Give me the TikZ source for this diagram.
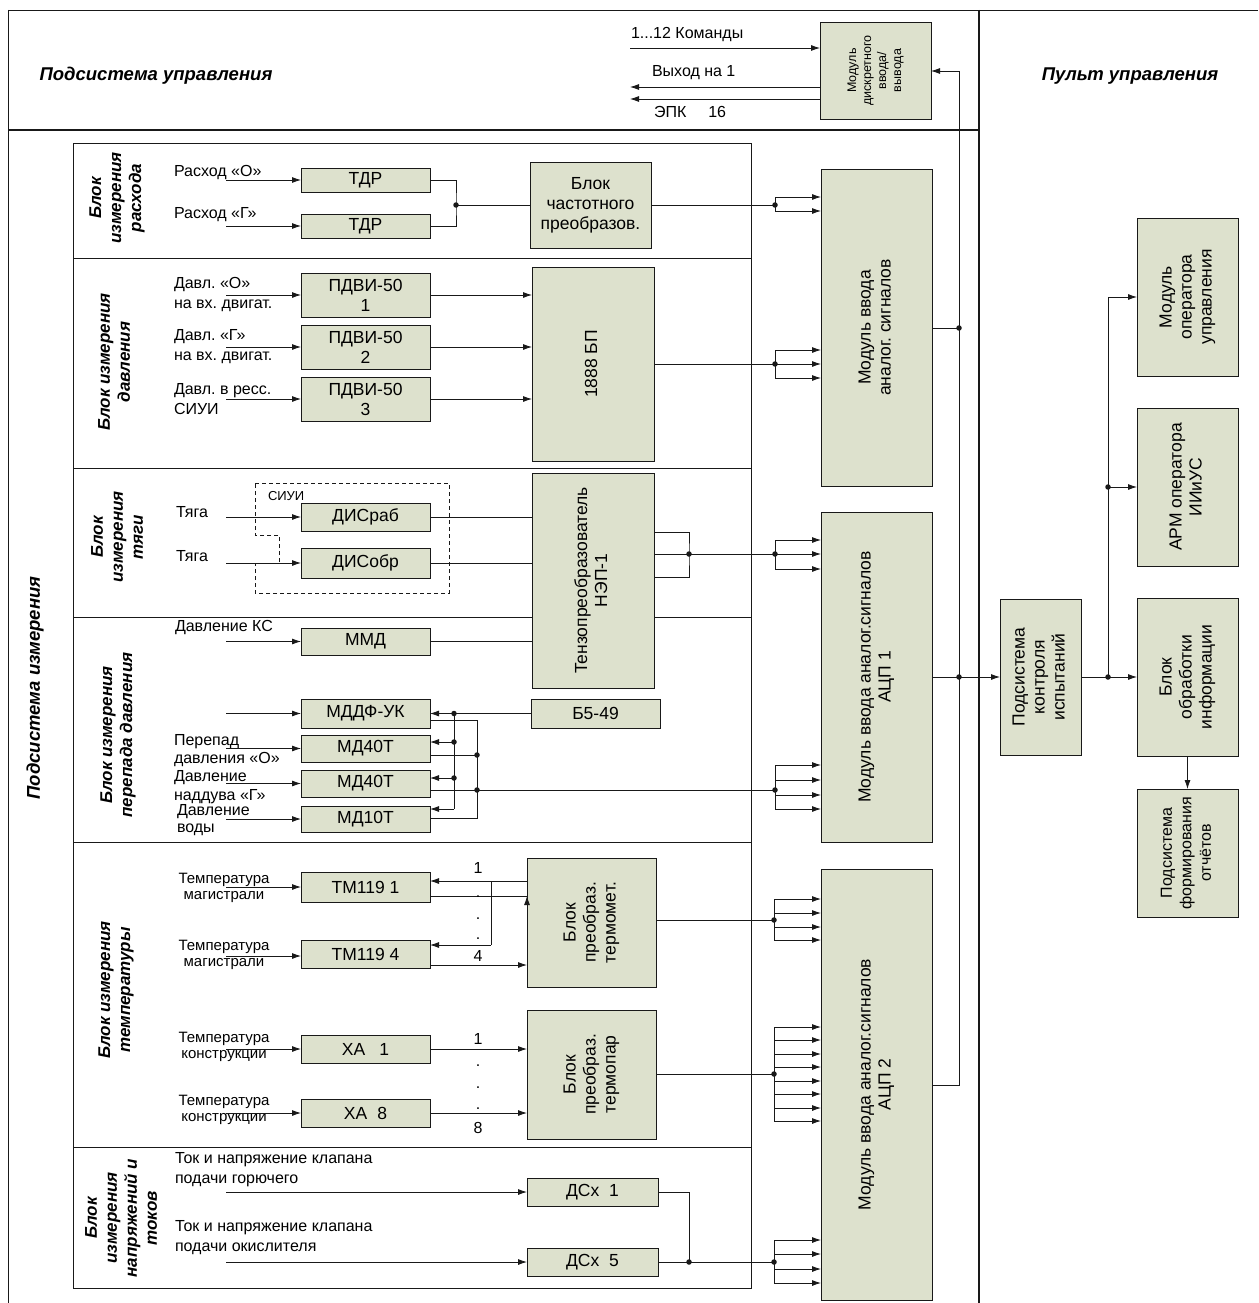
\documentclass[tikz,border=0pt]{standalone}
\usepackage{fontspec}
\setmainfont{Liberation Sans}
\usepackage{graphicx}
\usetikzlibrary{arrows.meta}
\definecolor{boxfill}{RGB}{221,225,205}
\definecolor{ln}{RGB}{25,25,25}
\newcommand{\fsz}[2]{\fontsize{#1}{#2}\selectfont}
\newcommand{\rtxt}[1]{\rotatebox{90}{\begin{tabular}{@{}c@{}}#1\end{tabular}}}
\frenchspacing
\begin{document}
\frenchspacing
\begin{tikzpicture}[x=1pt,y=-1pt,line width=0.8pt,
  every node/.style={inner sep=0pt,outer sep=0pt},
  blk/.style={draw=ln,fill=boxfill,line width=0.8pt,align=center,font=\fsz{17.5}{20}},
  lbl/.style={font=\fsz{16}{19},align=left},
  sec/.style={rotate=90,align=center,font=\fsz{17}{20}\bfseries\itshape},
  ttl/.style={font=\fsz{18.5}{22}\bfseries\itshape},
  arr/.style={-{Latex[length=9pt,width=6pt]}},
  dot/.style={circle,fill=ln,minimum size=5.5pt}
]
\useasboundingbox (0,0) rectangle (1258,1303);
\fill[white] (0,0) rectangle (1258,1303);

% frames
\draw[ln] (8,10) -- (1258,10);
\draw[ln] (8,10) -- (8,1303);
\draw[ln,line width=1.6pt] (979,10) -- (979,1303);
\draw[ln,line width=1.6pt] (8,130) -- (979,130);
\draw[ln] (73,143) rectangle (751,1288);
\foreach \yy in {258,468,617,842,1147} \draw[ln] (73,\yy) -- (751,\yy);

% titles
\node[ttl] (t1) at (156,76) {Подсистема управления};
\node[ttl] (t2) at (1130,76) {Пульт управления};
\node[ttl,rotate=90] (t3) at (35,688) {Подсистема измерения};

% control subsystem
\node[blk,minimum width=111,minimum height=97] (mdio) at (875.5,70.5) {\fsz{12.5}{15}\rtxt{Модуль\\дискретного\\ввода/\\вывода}};
\node[lbl,anchor=west] (c1) at (631,35) {1...12 Команды};
\coordinate (cin) at (630,48);
\draw[arr,ln] (cin) -- (mdio.west |- cin);
\node[lbl,anchor=west] (c2) at (652,73) {Выход на 1};
\coordinate (o1) at (630,87);
\coordinate (o2) at (630,99);
\draw[arr,ln] (mdio.west |- o1) -- (o1);
\draw[arr,ln] (mdio.west |- o2) -- (o2);
\node[lbl,anchor=west] (c3) at (654,112) {ЭПК\hspace{22pt}16};
\coordinate (btop) at (959,71);
\draw[arr,ln] (btop) -- (mdio.east |- btop);

% ---------- flow
\node[sec] (s1) at (117,198) {Блок\\измерения\\расхода};
\node[lbl,anchor=west] (l11) at (174,173) {Расход «О»};
\node[lbl,anchor=west] (l12) at (174,215) {Расход «Г»};
\node[blk,minimum width=129,minimum height=24] (tdr1) at (365.5,180) {ТДР};
\node[blk,minimum width=129,minimum height=24] (tdr2) at (365.5,226) {ТДР};
\coordinate (i11) at (226,180);
\coordinate (i12) at (226,226);
\draw[arr,ln] (i11) -- (tdr1.west);
\draw[arr,ln] (i12) -- (tdr2.west);
\node[blk,minimum width=121,minimum height=86] (bchp) at (590.5,205) {Блок\\частотного\\преобразов.};
\node[dot] (d11) at (456,205) {};
\draw[ln] (tdr1.east) -| (d11.center) |- (tdr2.east);
\draw[ln] (d11.center) -- (bchp.west);
\node[dot] (d12) at (775,205) {};
\draw[ln] (bchp.east) -- (d12.center);

\node[blk,minimum width=111,minimum height=317] (mod1) at (876.5,327.5) {\rtxt{Модуль ввода\\аналог. сигналов}};
\foreach \yy in {197,211} \draw[arr,ln] (d12.center) |- (mod1.west |- 0,\yy);
\node[dot] (b1) at (959,328) {};
\draw[ln] (mod1.east |- b1) -- (b1.center);

% ---------- pressure
\node[sec] (s2) at (114,362) {Блок измерения\\давления};
\node[lbl,anchor=west,font=\fsz{16}{20}] (l21) at (174,295) {Давл. «О»\\на вх. двигат.};
\node[lbl,anchor=west,font=\fsz{16}{20}] (l22) at (174,347) {Давл. «Г»\\на вх. двигат.};
\node[lbl,anchor=west,font=\fsz{16}{20}] (l23) at (174,399) {Давл. в ресс.\\СИУИ};
\node[blk,minimum width=129,minimum height=44] (p1) at (365.5,295) {ПДВИ-50\\1};
\node[blk,minimum width=129,minimum height=44] (p2) at (365.5,347) {ПДВИ-50\\2};
\node[blk,minimum width=129,minimum height=44] (p3) at (365.5,399) {ПДВИ-50\\3};
\coordinate (i21) at (226,295);
\coordinate (i22) at (226,347);
\coordinate (i23) at (226,399);
\draw[arr,ln] (i21) -- (p1.west);
\draw[arr,ln] (i22) -- (p2.west);
\draw[arr,ln] (i23) -- (p3.west);
\node[blk,minimum width=122,minimum height=194] (bp) at (593,364) {\rtxt{1888 БП}};
\draw[arr,ln] (p1.east) -- (bp.west |- p1.east);
\draw[arr,ln] (p2.east) -- (bp.west |- p2.east);
\draw[arr,ln] (p3.east) -- (bp.west |- p3.east);
\node[dot] (d21) at (775,364) {};
\draw[ln] (bp.east |- d21) -- (d21.center);
\foreach \yy in {350,364,378} \draw[arr,ln] (d21.center) |- (mod1.west |- 0,\yy);

% ---------- thrust
\node[sec] (s3) at (117,537) {Блок\\измерения\\тяги};
\draw[ln,dash pattern=on 4pt off 3pt] (255,483) -- (449,483) -- (449,593) -- (255,593) -- (255,563) -- (279,563) -- (279,535) -- (255,535) -- cycle;
\node[lbl,anchor=west,font=\fsz{13}{15}] (siui) at (268,496) {СИУИ};
\node[lbl,anchor=west] (l31) at (176,512) {Тяга};
\node[lbl,anchor=west] (l32) at (176,556) {Тяга};
\node[blk,minimum width=129,minimum height=28] (dr) at (365.5,517) {ДИСраб};
\node[blk,minimum width=129,minimum height=30] (dob) at (365.5,563) {ДИСобр};
\coordinate (i31) at (226,517);
\coordinate (i32) at (226,563);
\draw[arr,ln] (i31) -- (dr.west);
\draw[arr,ln] (i32) -- (dob.west);
\node[blk,minimum width=122,minimum height=215] (tz) at (593,580.5) {\rtxt{Тензопреобразователь\\НЭП-1}};
\draw[ln] (dr.east) -- (tz.west |- dr.east);
\draw[ln] (dob.east) -- (tz.west |- dob.east);
\node[dot] (d31) at (689,554) {};
\draw[ln] (tz.east |- 0,532) -| (d31.center) |- (tz.east |- 0,577);
\draw[ln] (tz.east |- d31) -- (d31.center);
\node[dot] (d32) at (775,554) {};
\draw[ln] (d31.center) -- (d32.center);

\node[blk,minimum width=111,minimum height=330] (acp1) at (876.5,677) {\rtxt{Модуль ввода аналог.сигналов\\АЦП 1}};
\foreach \yy in {540,554,569} \draw[arr,ln] (d32.center) |- (acp1.west |- 0,\yy);

% ---------- differential pressure
\node[sec] (s4) at (118,735) {Блок измерения\\перепада давления};
\node[lbl,anchor=west] (l41) at (175,628) {Давление КС};
\node[blk,minimum width=129,minimum height=27] (mmd) at (365.5,641.5) {ММД};
\coordinate (i41) at (226,641.5);
\draw[arr,ln] (i41) -- (mmd.west);
\draw[ln] (mmd.east) -- (tz.west |- mmd.east);
\node[blk,minimum width=129,minimum height=29] (mddf) at (365.5,713.5) {МДДФ-УК};
\node[blk,minimum width=129,minimum height=29] (b549) at (595.5,713.5) {Б5-49};
\node[blk,minimum width=129,minimum height=27] (m40a) at (365.5,748.5) {МД40Т};
\node[blk,minimum width=129,minimum height=27] (m40b) at (365.5,783.5) {МД40Т};
\node[blk,minimum width=129,minimum height=26] (m10) at (365.5,819) {МД10Т};
\node[lbl,anchor=west,font=\fsz{16}{18}] (l42) at (174,751) {Перепад\\давления «О»};
\node[lbl,anchor=west,font=\fsz{16}{19}] (l43) at (174,787) {Давление\\наддува «Г»};
\node[lbl,anchor=west,font=\fsz{16}{16.5}] (l44) at (177,820) {Давление\\воды};
\coordinate (i42) at (226,713.5);
\coordinate (i43) at (226,748.5);
\coordinate (i44) at (226,783.5);
\coordinate (i45) at (226,819);
\draw[arr,ln] (i42) -- (mddf.west);
\draw[arr,ln] (i43) -- (m40a.west);
\draw[arr,ln] (i44) -- (m40b.west);
\draw[arr,ln] (i45) -- (m10.west);
% feedback from B5-49
\node[dot] (f1) at (454,713.5) {};
\node[dot] (f2) at (454,742) {};
\node[dot] (f3) at (454,778) {};
\coordinate (f4) at (454,809);
\draw[ln] (b549.west) -- (f1.center);
\draw[arr,ln] (f1.center) -- (mddf.east);
\draw[ln] (f1.center) -- (f4);
\draw[arr,ln] (f2.center) -- (m40a.east |- f2);
\draw[arr,ln] (f3.center) -- (m40b.east |- f3);
\draw[arr,ln] (f4) -- (m10.east |- f4);
% collector
\coordinate (g1) at (477,720);
\coordinate (g4) at (477,818);
\node[dot] (g2) at (477,755) {};
\node[dot] (g3) at (477,790) {};
\draw[ln] (mddf.east |- g1) -- (g1) -- (g4) -- (m10.east |- g4);
\draw[ln] (m40a.east |- g2) -- (g2.center);
\draw[ln] (m40b.east |- g3) -- (g3.center);
\node[dot] (d41) at (775,790) {};
\draw[ln] (g3.center) -- (d41.center);
\foreach \yy in {765,780,795,809} \draw[arr,ln] (d41.center) |- (acp1.west |- 0,\yy);

% ---------- temperature
\node[sec] (s5) at (116,990) {Блок измерения\\температуры};
\node[lbl,align=center,font=\fsz{15}{15.5}] (l51) at (224,888) {Температура\\магистрали};
\node[lbl,align=center,font=\fsz{15}{15.5}] (l52) at (224,955) {Температура\\магистрали};
\node[blk,minimum width=129,minimum height=30] (tm1) at (365.5,887) {ТМ119 1};
\node[blk,minimum width=129,minimum height=28] (tm4) at (365.5,954) {ТМ119 4};
\coordinate (i51) at (226,887);
\coordinate (i52) at (226,956);
\draw[arr,ln] (i51) -- (tm1.west);
\draw[arr,ln] (i52) -- (tm4.west |- i52);
\node[blk,minimum width=129,minimum height=129] (bpt) at (591.5,922.5) {\rtxt{Блок\\преобраз.\\термомет.}};
\coordinate (h1) at (491,881);
\coordinate (h2) at (491,945);
\draw[arr,ln] (bpt.west |- h1) -- (tm1.east |- h1);
\draw[ln] (h1) -- (h2);
\draw[arr,ln] (h2) -- (tm4.east |- h2);
\draw[ln] (tm1.east |- 0,896) -- (bpt.west |- 0,896);
\draw[arr,ln] (bpt.west |- 0,908) -- (bpt.west |- 0,896);
\draw[arr,ln] (tm4.east |- 0,965) -- (bpt.west |- 0,965);
\node[lbl] (n1) at (478,868) {1};
\node[lbl,anchor=base] (n2) at (478,897) {.};
\node[lbl,anchor=base] (n3) at (478,919) {.};
\node[lbl,anchor=base] (n4) at (478,939) {.};
\node[lbl] (n5) at (478,956) {4};
\node[dot] (d51) at (774,920) {};
\draw[ln] (bpt.east |- d51) -- (d51.center);

\node[lbl,align=center,font=\fsz{15}{15.5}] (l53) at (224,1047) {Температура\\конструкции};
\node[lbl,align=center,font=\fsz{15}{15.5}] (l54) at (224,1110) {Температура\\конструкции};
\node[blk,minimum width=129,minimum height=28] (xa1) at (365.5,1049) {ХА\hspace{14pt}1};
\node[blk,minimum width=129,minimum height=28] (xa8) at (365.5,1113) {ХА\hspace{10pt}8};
\coordinate (i53) at (226,1049);
\coordinate (i54) at (226,1113);
\draw[arr,ln] (i53) -- (xa1.west);
\draw[arr,ln] (i54) -- (xa8.west);
\node[blk,minimum width=129,minimum height=129] (bptp) at (591.5,1074.5) {\rtxt{Блок\\преобраз.\\термопар}};
\draw[arr,ln] (xa1.east) -- (bptp.west |- xa1.east);
\draw[arr,ln] (xa8.east) -- (bptp.west |- xa8.east);
\node[lbl] (n6) at (478,1039) {1};
\node[lbl,anchor=base] (n7) at (478,1066) {.};
\node[lbl,anchor=base] (n8) at (478,1088) {.};
\node[lbl,anchor=base] (n9) at (478,1109) {.};
\node[lbl] (n10) at (478,1128) {8};
\node[dot] (d52) at (774,1074) {};
\draw[ln] (bptp.east |- d52) -- (d52.center);

% ---------- voltage
\node[sec] (s6) at (121,1218) {Блок\\измерения\\напряжений и\\токов};
\node[lbl,anchor=west,font=\fsz{16}{20}] (l61) at (175,1170) {Ток и напряжение клапана\\подачи горючего};
\node[lbl,anchor=west,font=\fsz{16}{20}] (l62) at (175,1238) {Ток и напряжение клапана\\подачи окислителя};
\node[blk,minimum width=131,minimum height=28] (dsx1) at (592.5,1192) {ДСх\hspace{10pt}1};
\node[blk,minimum width=131,minimum height=28] (dsx5) at (592.5,1262) {ДСх\hspace{10pt}5};
\coordinate (i61) at (226,1192);
\coordinate (i62) at (226,1262);
\draw[arr,ln] (i61) -- (dsx1.west);
\draw[arr,ln] (i62) -- (dsx5.west);
\node[dot] (d61) at (689,1262) {};
\draw[ln] (dsx1.east) -| (d61.center);
\draw[ln] (dsx5.east) -- (d61.center);
\node[dot] (d62) at (774,1262) {};
\draw[ln] (d61.center) -- (d62.center);

\node[blk,minimum width=111,minimum height=431] (acp2) at (876.5,1084.5) {\rtxt{Модуль ввода аналог.сигналов\\АЦП 2}};
\foreach \yy in {899,913,927,940} \draw[arr,ln] (d51.center) |- (acp2.west |- 0,\yy);
\foreach \yy in {1027,1040,1054,1067,1081,1094,1108,1121} \draw[arr,ln] (d52.center) |- (acp2.west |- 0,\yy);
\foreach \yy in {1240,1254,1269,1283} \draw[arr,ln] (d62.center) |- (acp2.west |- 0,\yy);

% bus
\coordinate (bbot) at (959,1085);
\draw[ln] (acp2.east |- bbot) -- (bbot) -- (btop);
\node[dot] (b2) at (959,677) {};
\draw[ln] (acp1.east) -- (b2.center);

% ---------- right panel
\node[blk,minimum width=81,minimum height=156] (podk) at (1040.5,677) {\rtxt{Подсистема\\контроля\\испытаний}};
\draw[arr,ln] (b2.center) -- (podk.west);
\node[blk,minimum width=101,minimum height=158] (mop) at (1187.5,297) {\rtxt{Модуль\\оператора\\управления}};
\node[blk,minimum width=101,minimum height=158] (arm) at (1187.5,487) {\rtxt{АРМ оператора\\ИИиУС}};
\node[blk,minimum width=101,minimum height=158] (bobr) at (1187.5,677) {\rtxt{Блок\\обработки\\информации}};
\node[blk,minimum width=101,minimum height=128] (potch) at (1187.5,853) {\fsz{16}{19.5}\rtxt{Подсистема\\формирования\\отчётов}};
\node[dot] (r1) at (1108,677) {};
\node[dot] (r2) at (1108,487) {};
\coordinate (r3) at (1108,297);
\draw[ln] (podk.east) -- (r1.center);
\draw[arr,ln] (r1.center) -- (bobr.west);
\draw[ln] (r1.center) -- (r3);
\draw[arr,ln] (r3) -- (mop.west |- r3);
\draw[arr,ln] (r2.center) -- (arm.west |- r2);
\draw[arr,ln] (bobr.south) -- (potch.north);
\end{tikzpicture}
\end{document}
